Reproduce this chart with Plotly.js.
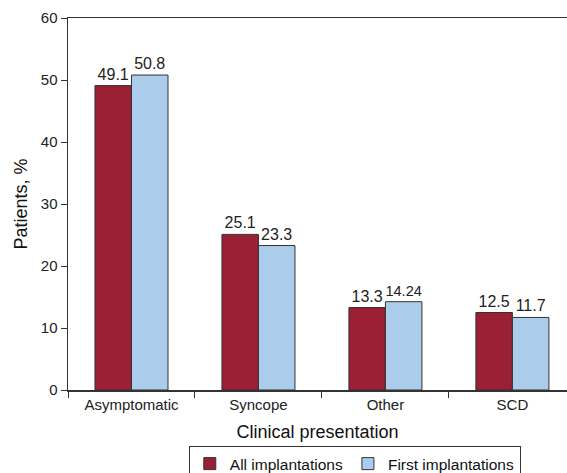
<!DOCTYPE html>
<html>
<head>
<meta charset="utf-8">
<script src="https://cdn.plot.ly/plotly-3.0.1.min.js"></script>
<style>html,body{margin:0;padding:0;background:#fff}#chart{width:567px;height:473px}</style>
</head>
<body>
<div id="chart"></div>
<script>
const categories = ["Asymptomatic", "Syncope", "Other", "SCD"];
const allImplantations = [49.1, 25.1, 13.3, 12.5];
const firstImplantations = [50.8, 23.3, 14.24, 11.7];
const allLabels = ["49.1", "25.1", "13.3", "12.5"];
const firstLabels = ["50.8", "23.3", "14.24", "11.7"];
const yTicks = [0, 10, 20, 30, 40, 50, 60];

const font = "Liberation Sans, Arial, sans-serif";
const traces = [
  {
    type: "bar", name: "All implantations", x: categories, y: allImplantations,
    text: allLabels, textposition: "outside", cliponaxis: false,
    textfont: {family: font, size: 16, color: "#222"},
    marker: {color: "#9b1f35", line: {color: "#333", width: 1}}
  },
  {
    type: "bar", name: "First implantations", x: categories, y: firstImplantations,
    text: firstLabels, textposition: "outside", cliponaxis: false,
    textfont: {family: font, size: 16, color: "#222"},
    marker: {color: "#abcdeb", line: {color: "#333", width: 1}}
  }
];
const layout = {
  width: 567, height: 473,
  margin: {l: 68, r: 0, t: 18, b: 83},
  paper_bgcolor: "#fff", plot_bgcolor: "#fff",
  font: {family: font, size: 15, color: "#222"},
  barmode: "group", bargap: 0.425, bargroupgap: 0,
  showlegend: true,
  legend: {
    orientation: "h", xref: "container", yref: "container",
    x: 0.333, xanchor: "left", y: 0.057, yanchor: "top",
    bordercolor: "#333", borderwidth: 1, font: {family: font, size: 15.5, color: "#111"},
    itemclick: false, tracegroupgap: 0, itemwidth: 30
  },
  xaxis: {
    type: "category", range: [-0.5, 3.43],
    showline: true, linecolor: "#333", linewidth: 1.5, mirror: true,
    ticks: "outside", tickson: "boundaries", ticklen: 6, tickcolor: "#333",
    showgrid: false, zeroline: false,
    tickfont: {family: font, size: 15, color: "#222"},
    title: {text: "Clinical presentation", font: {family: font, size: 18, color: "#111"}, standoff: 14}
  },
  yaxis: {
    range: [0, 60], tickvals: yTicks, ticktext: yTicks.map(String),
    showline: true, linecolor: "#333", linewidth: 1.5,
    ticks: "outside", ticklen: 6, tickcolor: "#333",
    showgrid: false, zeroline: false,
    tickfont: {family: font, size: 15, color: "#222"},
    title: {text: "Patients, %", font: {family: font, size: 18, color: "#111"}, standoff: 8}
  }
};
Plotly.newPlot("chart", traces, layout, {displayModeBar: false, staticPlot: true});
</script>
</body>
</html>
